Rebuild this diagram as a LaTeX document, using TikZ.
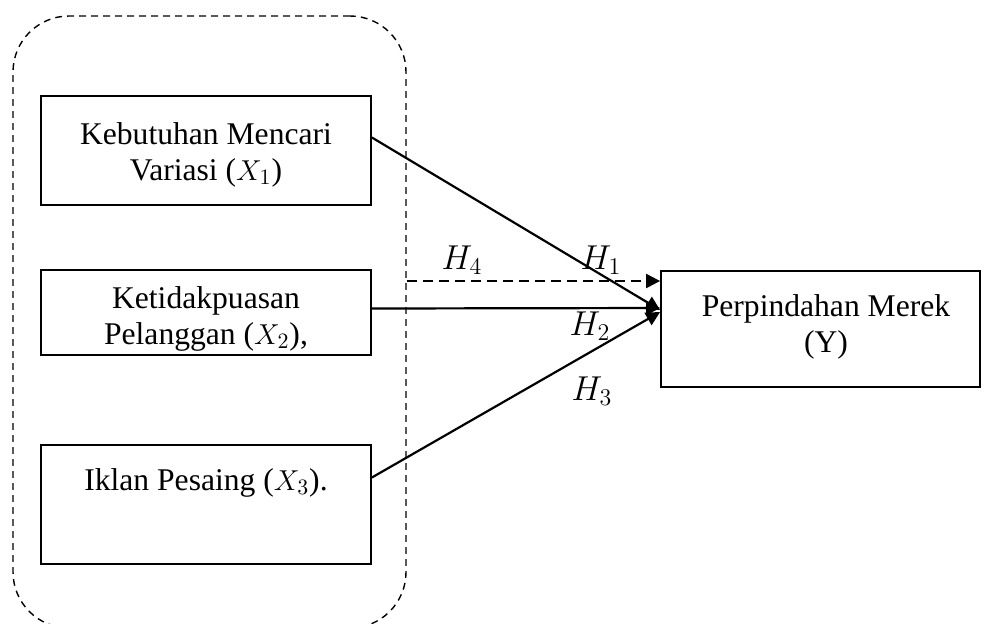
\documentclass[tikz,border=0pt]{standalone}
\usepackage{fontspec}
\setmainfont{Liberation Serif}
\usetikzlibrary{arrows.meta,calc}
\begin{document}
\begin{tikzpicture}[x=0.5pt,y=-0.5pt,
  box/.style={draw,line width=0.9pt,inner sep=0pt,rectangle},
  txt/.style={align=center,inner sep=0pt,font=\fontsize{15.8pt}{18pt}\selectfont},
  grp/.style={draw,line width=0.7pt,dash pattern=on 3.4pt off 2.6pt,rounded corners=28pt,inner sep=0pt,minimum width=196.5pt,minimum height=306pt},
  conn/.style={line width=1.1pt,-{Triangle[length=7pt,width=7pt]}},
  dconn/.style={conn,dash pattern=on 5pt off 3pt},
  hl/.style={inner sep=0pt,font=\fontsize{17pt}{18pt}\selectfont}]
\clip (0,0) rectangle (981,623);
\node[grp] (grp) at (209.5,322) {};
\node[box,minimum width=165pt,minimum height=54.5pt] (b1) at (206,150.5) {};
\node[box,minimum width=165pt,minimum height=42.5pt] (b2) at (206,312.5) {};
\node[box,minimum width=165pt,minimum height=59.5pt] (b3) at (206,504.5) {};
\node[box,minimum width=159.5pt,minimum height=58pt] (by) at (820.5,329) {};
\node[txt] (t1) at (206,155) {Kebutuhan Mencari\\Variasi ($X_1$)};
\node[txt] (t2) at (206,319) {Ketidakpuasan\\Pelanggan ($X_2$),};
\node[txt] (t3) at (206,483) {Iklan Pesaing ($X_3$).};
\node[txt] (ty) at (826,327) {Perpindahan Merek\\(Y)};
\coordinate (e1) at ($(by.west)+(0,-19)$);
\coordinate (e2) at ($(by.west)+(0,-21)$);
\coordinate (e3) at ($(by.west)+(0,-17)$);
\coordinate (e4) at ($(by.west)+(0,-48)$);
\draw[conn] ($(b1.east)+(0,-13)$) -- (e1);
\draw[conn] ($(b2.east)+(0,-4)$) -- (e2);
\draw[conn] ($(b3.east)+(0,-27)$) -- (e3);
\draw[dconn] (grp.east |- e4) -- (e4);
\node[hl] (h4) at (462,260) {$H_4$};
\node[hl] (h1) at (601,260) {$H_1$};
\node[hl] (h2) at (590,326) {$H_2$};
\node[hl] (h3) at (592,391) {$H_3$};
\end{tikzpicture}
\end{document}
